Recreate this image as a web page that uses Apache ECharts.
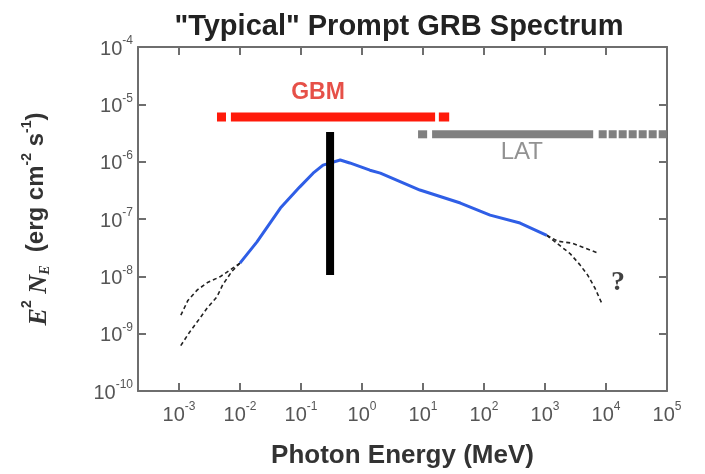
<!DOCTYPE html>
<html>
<head>
<meta charset="utf-8">
<script src="https://cdn.jsdelivr.net/npm/echarts@6/dist/echarts.min.js"></script>
<style>
  html, body { margin: 0; padding: 0; background: #fff; }
  #chart { width: 705px; height: 474px; }
</style>
</head>
<body>
<div id="chart"></div>
<script>
// Prompt GRB spectrum: E^2 N_E (erg cm^-2 s^-1) against photon energy (MeV)

// Measured spectrum (solid blue)
const spectrumEnergy = [0.01, 0.019, 0.046, 0.095, 0.158, 0.23, 0.44, 0.63, 1.35, 2.0, 8.9, 41, 126, 390, 1070];
const spectrumFlux   = [1.7e-8, 4.0e-8, 1.55e-7, 3.6e-7, 6.3e-7, 8.7e-7, 1.07e-6, 9.5e-7, 7.1e-7, 6.3e-7, 3.2e-7, 1.9e-7, 1.17e-7, 8.5e-8, 5.2e-8];

// Uncertain low-energy extrapolations (dashed)
const lowUpperEnergy = [0.01, 0.0047, 0.0030, 0.0020, 0.0014, 0.00105];
const lowUpperFlux   = [1.7e-8, 9.8e-9, 7.9e-9, 5.8e-9, 3.8e-9, 2.0e-9];
const lowLowerEnergy = [0.01, 0.0074, 0.0052, 0.0042, 0.0029, 0.0022, 0.0015, 0.00105];
const lowLowerFlux   = [1.7e-8, 1.23e-8, 7.1e-9, 4.4e-9, 2.8e-9, 1.86e-9, 1.07e-9, 6.0e-10];

// Uncertain high-energy extrapolations (dashed)
const highUpperEnergy = [1070, 1620, 2750, 4570, 7080];
const highUpperFlux   = [5.2e-8, 4.1e-8, 3.8e-8, 3.1e-8, 2.6e-8];
const highLowerEnergy = [1070, 2570, 3720, 5010, 6610, 8510];
const highLowerFlux   = [5.2e-8, 2.5e-8, 1.6e-8, 1.05e-8, 6.2e-9, 3.4e-9];

// Instrument energy coverage (MeV)
const gbmLevel = 6.0e-6;
const gbmSegments = [[0.0042, 0.0059], [0.0071, 15.8], [18.2, 26.9]];
const latLevel = 3.0e-6;
const latSegments = [[8.3, 11.7], [14.1, 6170]];
const latDotted = [7590, 100000];

// Vertical marker near the spectral peak
const markerEnergy = 0.30;
const markerFlux = [1.05e-8, 3.3e-6];

// Text annotations
const gbmLabel = { text: 'GBM', energy: 0.19, flux: 1.63e-5 };
const latLabel = { text: 'LAT', energy: 417, flux: 1.47e-6 };
const unknownLabel = { text: '?', energy: 15800, flux: 7.6e-9 };

// Axis ranges
const xMin = 2.13e-4, xMax = 1e5;
const yMin = 1e-10, yMax = 1e-4;

const pairs = (xs, ys) => xs.map((x, i) => [x, ys[i]]);

const axisGray = '#6e6e6e';
const labelRich = {
  b: { fontSize: 20, color: '#555', fontFamily: 'Liberation Sans, Arial, sans-serif', lineHeight: 24, verticalAlign: 'bottom' },
  s: { fontSize: 12, color: '#555', fontFamily: 'Liberation Sans, Arial, sans-serif', lineHeight: 12, verticalAlign: 'top' }
};
const powerLabel = (v) => {
  const lg = Math.log10(v);
  const e = Math.round(lg);
  if (Math.abs(lg - e) > 1e-6) return '';
  return '{b|10}{s|' + e + '}';
};

const frameAxis = (extra) => Object.assign({
  type: 'log',
  logBase: 10,
  axisLine: { show: true, lineStyle: { color: axisGray, width: 2 } },
  axisTick: { show: true, inside: true, length: 8, lineStyle: { color: axisGray, width: 2 } },
  splitLine: { show: false },
  minorTick: { show: false }
}, extra);

const dashStyle = { color: '#222', width: 1.6, type: [4, 3] };
const lineBase = { type: 'line', symbol: 'none', silent: true, animation: false };

const series = [];

// Dashed extrapolations
[[lowUpperEnergy, lowUpperFlux], [lowLowerEnergy, lowLowerFlux],
 [highUpperEnergy, highUpperFlux], [highLowerEnergy, highLowerFlux]].forEach(([xs, ys]) => {
  series.push(Object.assign({}, lineBase, { data: pairs(xs, ys), lineStyle: dashStyle, z: 2 }));
});

// Solid spectrum
series.push(Object.assign({}, lineBase, {
  data: pairs(spectrumEnergy, spectrumFlux),
  lineStyle: { color: '#2f5ee6', width: 3 },
  z: 3
}));

// GBM band
gbmSegments.forEach(seg => {
  series.push(Object.assign({}, lineBase, {
    data: [[seg[0], gbmLevel], [seg[1], gbmLevel]],
    lineStyle: { color: '#ff1a0a', width: 9, cap: 'butt' },
    z: 4
  }));
});

// LAT band
latSegments.forEach(seg => {
  series.push(Object.assign({}, lineBase, {
    data: [[seg[0], latLevel], [seg[1], latLevel]],
    lineStyle: { color: '#808080', width: 8, cap: 'butt' },
    z: 4
  }));
});
series.push(Object.assign({}, lineBase, {
  data: [[latDotted[0], latLevel], [latDotted[1], latLevel]],
  lineStyle: { color: '#808080', width: 8, cap: 'butt', type: [8, 2] },
  z: 4
}));

// Peak marker
series.push(Object.assign({}, lineBase, {
  data: [[markerEnergy, markerFlux[0]], [markerEnergy, markerFlux[1]]],
  lineStyle: { color: '#000', width: 8, cap: 'butt' },
  z: 5
}));

// Annotations
const textPoint = (lbl, style) => Object.assign({}, {
  type: 'scatter', symbolSize: 0, silent: true, animation: false, z: 6,
  data: [[lbl.energy, lbl.flux]],
  label: Object.assign({ show: true, position: 'inside', formatter: lbl.text }, style)
});
series.push(textPoint(gbmLabel, { color: '#e0241a', fontSize: 23, fontWeight: 'bold', fontFamily: 'Liberation Sans, Arial, sans-serif' }));
series.push(textPoint(latLabel, { color: '#777', fontSize: 24, fontFamily: 'Liberation Sans, Arial, sans-serif' }));
series.push(textPoint(unknownLabel, { color: '#111', fontSize: 28, fontWeight: 'bold', fontFamily: 'Liberation Serif, DejaVu Serif, serif' }));

const chart = echarts.init(document.getElementById('chart'), null, { renderer: 'canvas' });
chart.setOption({
  backgroundColor: '#fff',
  animation: false,
  title: {
    text: '"Typical" Prompt GRB Spectrum',
    left: 394,
    textAlign: 'center',
    top: 7,
    textStyle: { fontSize: 29, fontWeight: 'bold', color: '#222', fontFamily: 'Liberation Sans, Arial, sans-serif' }
  },
  grid: { left: 138, right: 38, top: 47, bottom: 83, containLabel: false },
  xAxis: [
    frameAxis({
      min: xMin, max: xMax, position: 'bottom',
      axisLabel: { show: true, margin: 10, formatter: powerLabel, rich: labelRich, showMinLabel: false },
      name: 'Photon Energy (MeV)',
      nameLocation: 'middle',
      nameGap: 52,
      nameTextStyle: { fontSize: 26, fontWeight: 'bold', color: '#333', fontFamily: 'Liberation Sans, Arial, sans-serif', verticalAlign: 'top' }
    }),
    frameAxis({ min: xMin, max: xMax, position: 'top', axisLabel: { show: false } })
  ],
  yAxis: [
    frameAxis({
      min: yMin, max: yMax, position: 'left',
      axisLabel: { show: true, margin: 5, formatter: powerLabel, rich: labelRich },
      name: '{it|E}{sup|2} {it|N}{sub|E}  (erg cm{sup|-2} s{sup|-1})',
      nameLocation: 'middle',
      nameRotate: 90,
      nameGap: 86,
      nameTextStyle: {
        color: '#333',
        rich: {
          it: { fontSize: 26, fontWeight: 'bold', fontStyle: 'italic', fontFamily: 'Liberation Serif, DejaVu Serif, serif', color: '#333', lineHeight: 32, verticalAlign: 'bottom' },
          sup: { fontSize: 14, fontWeight: 'bold', fontFamily: 'Liberation Sans, Arial, sans-serif', color: '#333', lineHeight: 15, verticalAlign: 'top' },
          sub: { fontSize: 14, fontWeight: 'bold', fontStyle: 'italic', fontFamily: 'Liberation Serif, serif', color: '#333', lineHeight: 15, verticalAlign: 'bottom' }
        },
        fontSize: 24, fontWeight: 'bold', fontFamily: 'Liberation Sans, Arial, sans-serif', lineHeight: 32, verticalAlign: 'bottom'
      }
    }),
    frameAxis({ min: yMin, max: yMax, position: 'right', axisLabel: { show: false } })
  ],
  series: series
});
</script>
</body>
</html>
